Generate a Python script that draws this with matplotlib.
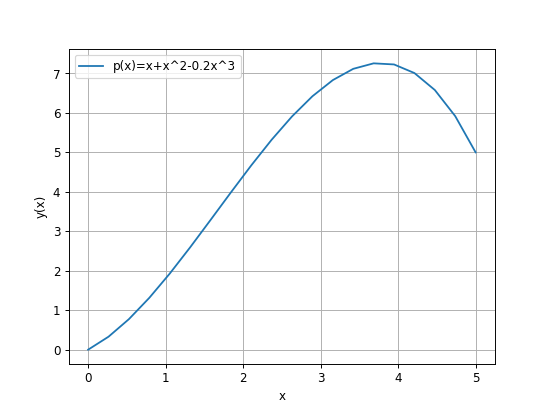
import matplotlib
matplotlib.use('Agg')
import matplotlib.pyplot as plt

x_vals = [0.0, 0.2632, 0.5263, 0.7895, 1.0526, 1.3158, 1.5789, 1.8421, 2.1053, 2.3684,
          2.6316, 2.8947, 3.1579, 3.4211, 3.6842, 3.9474, 4.2105, 4.4737, 4.7368, 5.0]
y_vals = [0.0, 0.329, 0.774, 1.314, 1.927, 2.592, 3.285, 3.985, 4.671, 5.321,
          5.912, 6.423, 6.832, 7.117, 7.256, 7.228, 7.010, 6.580, 5.918, 5.0]
label = 'p(x)=x+x^2-0.2x^3'

# default 6.4in figure, rendered small so it comes out 550 px wide
fig, ax = plt.subplots(figsize=(6.4, 4.76), dpi=550 / 6.4)
ax.plot(x_vals, y_vals, label=label)
ax.set_xlabel('x')
ax.set_ylabel('y(x)')
ax.grid(True)
ax.legend(loc='upper left')
fig.savefig('out.png')
